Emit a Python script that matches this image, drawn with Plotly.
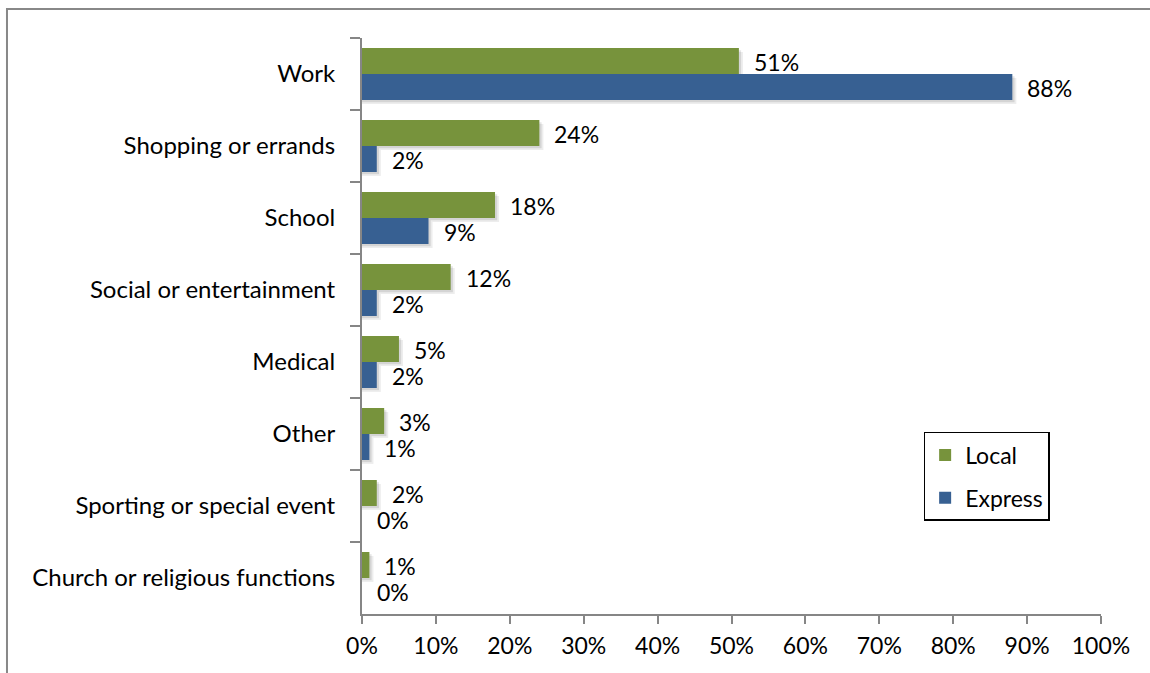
import plotly.graph_objects as go

categories = ["Work", "Shopping or errands", "School", "Social or entertainment",
              "Medical", "Other", "Sporting or special event", "Church or religious functions"]
local_vals = [51, 24, 18, 12, 5, 3, 2, 1]
express_vals = [88, 2, 9, 2, 2, 1, 0, 0]
x_ticks = [0, 10, 20, 30, 40, 50, 60, 70, 80, 90, 100]

GREEN = "#77933C"
BLUE = "#376092"
FONT = "Lato"
FS = 23
BW = 26 / 72  # bar width in category units

fig = go.Figure()

# soft drop shadows
for vals, off in ((local_vals, -BW), (express_vals, 0.0)):
    for dy, dx, a in ((0.055, 0.55, 0.07), (0.03, 0.3, 0.10)):
        fig.add_trace(go.Bar(
            y=categories, x=[v + dx if v > 0 else 0 for v in vals], orientation="h",
            width=BW, offset=off + dy, marker=dict(color=f"rgba(0,0,0,{a})", line=dict(width=0)),
            showlegend=False, hoverinfo="skip"))

fig.add_trace(go.Bar(y=categories, x=local_vals, orientation="h", name="Local",
                     width=BW, offset=-BW, marker=dict(color=GREEN, line=dict(width=0)),
                     legendgroup="a"))
fig.add_trace(go.Bar(y=categories, x=express_vals, orientation="h", name="Express",
                     width=BW, offset=0.0, marker=dict(color=BLUE, line=dict(width=0)),
                     legendgroup="b"))

for vals, ys in ((local_vals, 12), (express_vals, -14)):
    for c, v in zip(categories, vals):
        fig.add_annotation(x=v, y=c, text=f"{v}%", showarrow=False, xanchor="left",
                           yanchor="middle", xshift=13, yshift=ys,
                           font=dict(family=FONT, size=FS, color="black"))

# outer chart frame (top and left edges visible)
fig.add_shape(type="path", xref="paper", yref="paper",
              path="M -0.4804 -0.2 L -0.4804 1.0503 L 1.2 1.0503",
              line=dict(color="#888888", width=2))

fig.update_layout(
    width=1150, height=673,
    barmode="overlay",
    paper_bgcolor="white", plot_bgcolor="white",
    margin=dict(l=362, r=49, t=38, b=59, autoexpand=False),
    font=dict(family=FONT, size=FS, color="black"),
    xaxis=dict(range=[0, 100], tickvals=x_ticks, ticktext=[f"{t}%" for t in x_ticks],
               showgrid=False, zeroline=False, showline=True, linecolor="#868686",
               linewidth=2, ticks="outside", ticklen=8, tickwidth=2, tickcolor="#868686",
               ticklabelstandoff=2,
               tickfont=dict(family=FONT, size=FS, color="black")),
    yaxis=dict(type="category", categoryorder="array", categoryarray=categories,
               range=[7.5, -0.5], tickson="boundaries", ticks="outside", ticklen=10,
               tickwidth=2, tickcolor="#868686", showline=True, linecolor="#868686",
               linewidth=2, showgrid=False, zeroline=False, ticklabelstandoff=20,
               tickfont=dict(family=FONT, size=24, color="black")),
    legend=dict(x=0.760, y=0.316, xanchor="left", yanchor="top",
                bordercolor="black", borderwidth=1.5, bgcolor="white",
                tracegroupgap=10, font=dict(family=FONT, size=FS, color="black")),
    showlegend=True,
)

fig.write_html("out.html")
